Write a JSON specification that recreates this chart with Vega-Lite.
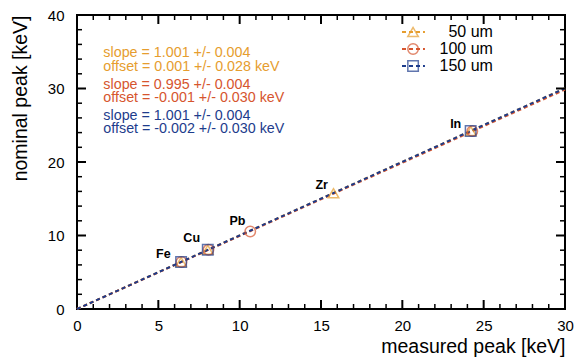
{
  "$schema": "https://vega.github.io/schema/vega-lite/v6.json",
  "width": 488,
  "height": 294,
  "autosize": {"type": "none"},
  "padding": {"left": 77, "top": 15, "right": 16, "bottom": 53},
  "background": "white",
  "config": {
    "view": {"stroke": "black", "strokeWidth": 2},
    "axis": {
      "grid": false, "domain": false,
      "labelFont": "Liberation Sans", "labelFontSize": 15, "labelColor": "black",
      "titleFont": "Liberation Sans", "titleFontSize": 19.5, "titleFontWeight": "normal", "titleColor": "black",
      "labelFlush": false, "labelOverlap": false
    },
    "text": {"font": "Liberation Sans"}
  },
  "datasets": {
    "fits": [
      {"series": "50 um", "x": 0, "y": 0.001}, {"series": "50 um", "x": 30, "y": 30.031},
      {"series": "100 um", "x": 0, "y": -0.001}, {"series": "100 um", "x": 30, "y": 29.849},
      {"series": "150 um", "x": 0, "y": -0.002}, {"series": "150 um", "x": 30, "y": 30.028}
    ],
    "pts": [
      {"series": "50 um", "el": "Fe", "x": 6.40, "y": 6.40},
      {"series": "50 um", "el": "Cu", "x": 8.04, "y": 8.05},
      {"series": "50 um", "el": "Zr", "x": 15.77, "y": 15.75},
      {"series": "50 um", "el": "In", "x": 24.21, "y": 24.21},
      {"series": "100 um", "el": "Fe", "x": 6.42, "y": 6.40},
      {"series": "100 um", "el": "Cu", "x": 8.08, "y": 8.05},
      {"series": "100 um", "el": "Pb", "x": 10.65, "y": 10.55},
      {"series": "100 um", "el": "In", "x": 24.3, "y": 24.2},
      {"series": "150 um", "el": "Fe", "x": 6.40, "y": 6.40},
      {"series": "150 um", "el": "Cu", "x": 8.04, "y": 8.05},
      {"series": "150 um", "el": "In", "x": 24.2, "y": 24.21}
    ],
    "ann": [
      {"series": "50 um", "x": 1.62, "y": 34.79, "label": "slope = 1.001 +/- 0.004"},
      {"series": "50 um", "x": 1.62, "y": 32.97, "label": "offset = 0.001 +/- 0.028 keV"},
      {"series": "100 um", "x": 1.62, "y": 30.48, "label": "slope = 0.995 +/- 0.004"},
      {"series": "100 um", "x": 1.62, "y": 28.67, "label": "offset = -0.001 +/- 0.030 keV"},
      {"series": "150 um", "x": 1.62, "y": 26.3, "label": "slope = 1.001 +/- 0.004"},
      {"series": "150 um", "x": 1.62, "y": 24.49, "label": "offset = -0.002 +/- 0.030 keV"}
    ],
    "legline": [
      {"series": "50 um", "x": 19.98, "y": 37.69}, {"series": "50 um", "x": 21.39, "y": 37.69},
      {"series": "100 um", "x": 19.98, "y": 35.37}, {"series": "100 um", "x": 21.39, "y": 35.37},
      {"series": "150 um", "x": 19.98, "y": 33.06}, {"series": "150 um", "x": 21.39, "y": 33.06}
    ],
    "legpt": [
      {"series": "50 um", "x": 20.66, "y": 37.69, "tx": 25.57, "label": "50 um"},
      {"series": "100 um", "x": 20.66, "y": 35.37, "tx": 25.57, "label": "100 um"},
      {"series": "150 um", "x": 20.66, "y": 33.06, "tx": 25.57, "label": "150 um"}
    ],
    "els": [
      {"el": "Fe", "x": 5.31, "y": 7.44},
      {"el": "Cu", "x": 7.05, "y": 9.70},
      {"el": "Pb", "x": 9.86, "y": 12.01},
      {"el": "Zr", "x": 15.04, "y": 16.87},
      {"el": "In", "x": 23.28, "y": 25.13}
    ],
    "xmajor": [{"v": 5}, {"v": 10}, {"v": 15}, {"v": 20}, {"v": 25}],
    "xminor": [{"v": 1}, {"v": 2}, {"v": 3}, {"v": 4}, {"v": 6}, {"v": 7}, {"v": 8}, {"v": 9}, {"v": 11}, {"v": 12}, {"v": 13}, {"v": 14}, {"v": 16}, {"v": 17}, {"v": 18}, {"v": 19}, {"v": 21}, {"v": 22}, {"v": 23}, {"v": 24}, {"v": 26}, {"v": 27}, {"v": 28}, {"v": 29}],
    "ymajor": [{"v": 10}, {"v": 20}, {"v": 30}],
    "yminor": [{"v": 2}, {"v": 4}, {"v": 6}, {"v": 8}, {"v": 12}, {"v": 14}, {"v": 16}, {"v": 18}, {"v": 22}, {"v": 24}, {"v": 26}, {"v": 28}, {"v": 32}, {"v": 34}, {"v": 36}, {"v": 38}]
  },
  "resolve": {"axis": {"x": "independent", "y": "independent"}},
  "layer": [
    {
      "data": {"name": "fits"},
      "mark": {"type": "line", "strokeDash": [4, 3], "strokeWidth": 2},
      "encoding": {
        "x": {"field": "x", "type": "quantitative", "scale": {"domain": [0, 30], "nice": false},
          "axis": {"orient": "bottom", "values": [0, 5, 10, 15, 20, 25, 30], "ticks": false, "labelPadding": 9,
            "title": "measured peak [keV]", "titleAnchor": "end", "titlePadding": 4}},
        "y": {"field": "y", "type": "quantitative", "scale": {"domain": [0, 40], "nice": false},
          "axis": {"orient": "left", "values": [0, 10, 20, 30, 40], "ticks": false, "labelPadding": 13,
            "title": "nominal peak [keV]", "titleAnchor": "end", "titlePadding": 17}},
        "color": {"field": "series", "type": "nominal",
          "scale": {"domain": ["50 um", "100 um", "150 um"], "range": ["#E69D2E", "#D6552E", "#1D3C8C"]}, "legend": null}
      }
    },
    {
      "data": {"name": "xmajor"},
      "mark": {"type": "tick", "orient": "vertical", "size": 9, "thickness": 2, "yOffset": -4.5, "color": "black", "opacity": 1},
      "encoding": {
        "x": {"field": "v", "type": "quantitative", "scale": {"domain": [0, 30], "nice": false}, "axis": null},
        "y": {"datum": 0, "type": "quantitative", "scale": {"domain": [0, 40], "nice": false}, "axis": null}
      }
    },
    {
      "data": {"name": "xmajor"},
      "mark": {"type": "tick", "orient": "vertical", "size": 9, "thickness": 2, "yOffset": 4.5, "color": "black", "opacity": 1},
      "encoding": {
        "x": {"field": "v", "type": "quantitative", "axis": null},
        "y": {"datum": 40, "type": "quantitative", "axis": null}
      }
    },
    {
      "data": {"name": "xminor"},
      "mark": {"type": "tick", "orient": "vertical", "size": 5, "thickness": 1.5, "yOffset": -2.5, "color": "black", "opacity": 1},
      "encoding": {
        "x": {"field": "v", "type": "quantitative", "axis": null},
        "y": {"datum": 0, "type": "quantitative", "axis": null}
      }
    },
    {
      "data": {"name": "xminor"},
      "mark": {"type": "tick", "orient": "vertical", "size": 5, "thickness": 1.5, "yOffset": 2.5, "color": "black", "opacity": 1},
      "encoding": {
        "x": {"field": "v", "type": "quantitative", "axis": null},
        "y": {"datum": 40, "type": "quantitative", "axis": null}
      }
    },
    {
      "data": {"name": "ymajor"},
      "mark": {"type": "tick", "orient": "horizontal", "size": 9, "thickness": 2, "xOffset": 4.5, "color": "black", "opacity": 1},
      "encoding": {
        "y": {"field": "v", "type": "quantitative", "axis": null},
        "x": {"datum": 0, "type": "quantitative", "axis": null}
      }
    },
    {
      "data": {"name": "ymajor"},
      "mark": {"type": "tick", "orient": "horizontal", "size": 9, "thickness": 2, "xOffset": -4.5, "color": "black", "opacity": 1},
      "encoding": {
        "y": {"field": "v", "type": "quantitative", "axis": null},
        "x": {"datum": 30, "type": "quantitative", "axis": null}
      }
    },
    {
      "data": {"name": "yminor"},
      "mark": {"type": "tick", "orient": "horizontal", "size": 5, "thickness": 1.5, "xOffset": 2.5, "color": "black", "opacity": 1},
      "encoding": {
        "y": {"field": "v", "type": "quantitative", "axis": null},
        "x": {"datum": 0, "type": "quantitative", "axis": null}
      }
    },
    {
      "data": {"name": "yminor"},
      "mark": {"type": "tick", "orient": "horizontal", "size": 5, "thickness": 1.5, "xOffset": -2.5, "color": "black", "opacity": 1},
      "encoding": {
        "y": {"field": "v", "type": "quantitative", "axis": null},
        "x": {"datum": 30, "type": "quantitative", "axis": null}
      }
    },
    {
      "data": {"name": "pts"},
      "mark": {"type": "point", "filled": false, "strokeWidth": 1.5, "size": 110},
      "encoding": {
        "x": {"field": "x", "type": "quantitative", "axis": null},
        "y": {"field": "y", "type": "quantitative", "axis": null},
        "color": {"field": "series", "type": "nominal", "legend": null},
        "shape": {"field": "series", "type": "nominal",
          "scale": {"domain": ["50 um", "100 um", "150 um"], "range": ["triangle-up", "circle", "square"]}, "legend": null}
      }
    },
    {
      "data": {"name": "ann"},
      "mark": {"type": "text", "align": "left", "baseline": "middle", "fontSize": 14.3},
      "encoding": {
        "x": {"field": "x", "type": "quantitative", "axis": null},
        "y": {"field": "y", "type": "quantitative", "axis": null},
        "color": {"field": "series", "type": "nominal", "legend": null},
        "text": {"field": "label"}
      }
    },
    {
      "data": {"name": "legline"},
      "mark": {"type": "line", "strokeDash": [4, 3], "strokeWidth": 2},
      "encoding": {
        "x": {"field": "x", "type": "quantitative", "axis": null},
        "y": {"field": "y", "type": "quantitative", "axis": null},
        "color": {"field": "series", "type": "nominal", "legend": null}
      }
    },
    {
      "data": {"name": "legpt"},
      "mark": {"type": "point", "filled": false, "strokeWidth": 1.5, "size": 110},
      "encoding": {
        "x": {"field": "x", "type": "quantitative", "axis": null},
        "y": {"field": "y", "type": "quantitative", "axis": null},
        "color": {"field": "series", "type": "nominal", "legend": null},
        "shape": {"field": "series", "type": "nominal", "legend": null}
      }
    },
    {
      "data": {"name": "legpt"},
      "mark": {"type": "text", "align": "right", "baseline": "middle", "fontSize": 16, "color": "black"},
      "encoding": {
        "x": {"field": "tx", "type": "quantitative", "axis": null},
        "y": {"field": "y", "type": "quantitative", "axis": null},
        "text": {"field": "label"}
      }
    },
    {
      "data": {"name": "els"},
      "mark": {"type": "text", "align": "center", "baseline": "middle", "fontSize": 12.5, "fontWeight": "bold", "color": "black"},
      "encoding": {
        "x": {"field": "x", "type": "quantitative", "axis": null},
        "y": {"field": "y", "type": "quantitative", "axis": null},
        "text": {"field": "el"}
      }
    }
  ]
}
